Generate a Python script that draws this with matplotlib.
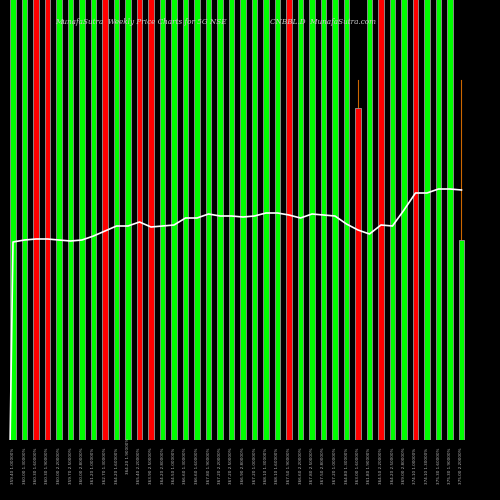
import matplotlib
matplotlib.use("Agg")
import matplotlib.pyplot as plt

colors = list("ggrrggggrggrrgggggggggggrgggggrgrggrgggg")
heights = [500]*40
heights[30] = 332
heights[39] = 200
wick_tops = {30: 360, 39: 360}
line_vals = [440-p for p in [242,240,239,239,240,241,240,236,231,226,226,222,227,226,225,218,218,214,216,216,
                             217,216,213,213,215,218,214,215,216,224,230,234,225,226,210,193,193,189,189,190]]
labels = ["%.2f %.5f%%" % (300 + 3*v/10, 1 + (i % 7)*0.3) for i, v in enumerate(line_vals)]

fig = plt.figure(figsize=(5, 5), dpi=100, facecolor="black")
ax = fig.add_axes([0, 0.12, 1, 0.88])
ax.set_facecolor("black")
cmap = {"g": "#00ff00", "r": "#ff0000"}
xs = list(range(40))
for i, (c, h) in enumerate(zip(colors, heights)):
    if i in wick_tops:
        ax.plot([i, i], [0, wick_tops[i]], color="#cc6600", lw=0.8, zorder=1)
    ax.bar(i, h, width=0.45, color=cmap[c], edgecolor="#999999", linewidth=0.6, zorder=2)
ax.plot([-0.25] + xs, [0] + line_vals, color="white", lw=1.2, zorder=3)
ax.set_xlim(-13/11.5, 42.35)
ax.set_ylim(0, 440)
ax.axis("off")
for i, lab in enumerate(labels):
    y = 0.105 if i != 10 else 0.125
    fig.text((13 + 11.5*i)/500, y, lab, rotation=90, color="#bbbbbb", fontsize=3, ha="center", va="top")
fig.text(0.11, 0.955, "MunafaSutra  Weekly Price Charts for 5G NSE", color="#cccccc", fontsize=5.2,
         family="DejaVu Serif", style="italic", va="center")
fig.text(0.54, 0.955, "CNBBL.D  MunafaSutra.com", color="#cccccc", fontsize=5.2,
         family="DejaVu Serif", style="italic", va="center")
fig.savefig("out.png", dpi=100, facecolor="black")
